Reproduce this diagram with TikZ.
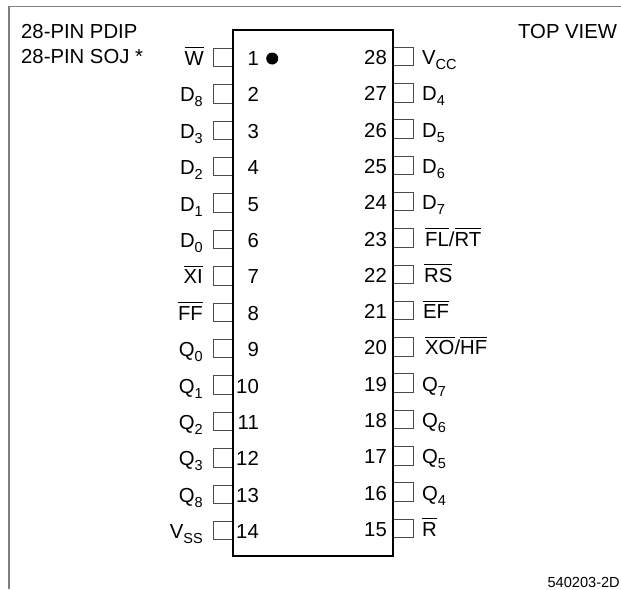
\documentclass[tikz,border=0pt]{standalone}
\usepackage{fontspec}
\setmainfont{Liberation Sans}
\usetikzlibrary{positioning}
\tikzstyle{pin} = [draw=black!70, line width=1pt, rectangle, minimum width=20pt, minimum height=18.5pt, inner sep=0pt, outer sep=0pt]
\tikzstyle{pinnum} = [inner sep=0pt, font=\fontsize{20.3}{24}\selectfont]
\tikzstyle{pinname} = [inner sep=0pt, font=\fontsize{20.3}{24}\selectfont]
\tikzstyle{caption} = [inner sep=0pt, anchor=base west, font=\fontsize{20.3}{24}\selectfont]
\newcommand{\bubble}[1]{$\overline{\mbox{\rule{0pt}{16.5pt}#1}}$}
\newcommand{\low}[2]{#1\raisebox{-5pt}{\fontsize{14.5}{16}\selectfont #2}}

\begin{document}
\begin{tikzpicture}[x=1pt,y=-1pt]
  \useasboundingbox (0,0) rectangle (621,589);
  \draw[black!50, line width=1.5pt] (9,589) -- (9,6.5) -- (621,6.5);
  % left row, top to bottom
  \foreach \n/\sig/\gap in {1/\bubble{W}/9, 2/\low{D}{8}/10, 3/\low{D}{3}/10, 4/\low{D}{2}/10, 5/\low{D}{1}/10,
      6/\low{D}{0}/10, 7/\bubble{XI}/10, 8/\bubble{FF}/10, 9/\low{Q}{0}/10, 10/\low{Q}{1}/10,
      11/\low{Q}{2}/10, 12/\low{Q}{3}/10, 13/\low{Q}{8}/10, 14/\low{V}{SS}/10} {
    \node[pin] (p\n) at (223,{57.5+(\n-1)*36.4}) {};
    \node[pinname, base left=\gap pt of p\n, yshift=-8pt] (s\n) {\sig};
    \node[pinnum, anchor=base east] (n\n) at ([xshift=26pt,yshift=-8pt]p\n.base east) {\n};
  }
  % right row, top to bottom
  \foreach \n/\sig/\gap in {28/\low{V}{CC}/9, 27/\low{D}{4}/9, 26/\low{D}{5}/9, 25/\low{D}{6}/9, 24/\low{D}{7}/9,
      23/{\bubble{FL}/\bubble{RT}}/12, 22/\bubble{RS}/11, 21/\bubble{EF}/10, 20/{\bubble{XO}/\bubble{HF}}/12, 19/\low{Q}{7}/9,
      18/\low{Q}{6}/9, 17/\low{Q}{5}/9, 16/\low{Q}{4}/9, 15/\bubble{R}/9} {
    \node[pin] (p\n) at (403,{56.5+(28-\n)*36.3}) {};
    \node[pinname, base right=\gap pt of p\n, yshift=-8pt] (s\n) {\sig};
    \node[pinnum, anchor=base east] (n\n) at ([xshift=-6pt,yshift=-8pt]p\n.base west) {\n};
  }
  \node[draw, line width=2pt, rectangle, minimum width=160pt, minimum height=526pt, inner sep=0pt, outer sep=0pt] (chip) at (313,293) {};
  \node[circle, fill=black, minimum size=12pt, inner sep=0pt, right=7pt of n1.east] (dot) {};
  \node[caption] (pdip) at (21,38.5) {28-PIN PDIP};
  \node[caption] (soj) at (21,63) {28-PIN SOJ *};
  \node[caption] (view) at (518,38.5) {TOP VIEW};
  \node[inner sep=0pt, anchor=base east, font=\fontsize{14.6}{18}\selectfont] (code) at (620,587) {540203-2D};
\end{tikzpicture}
\end{document}
